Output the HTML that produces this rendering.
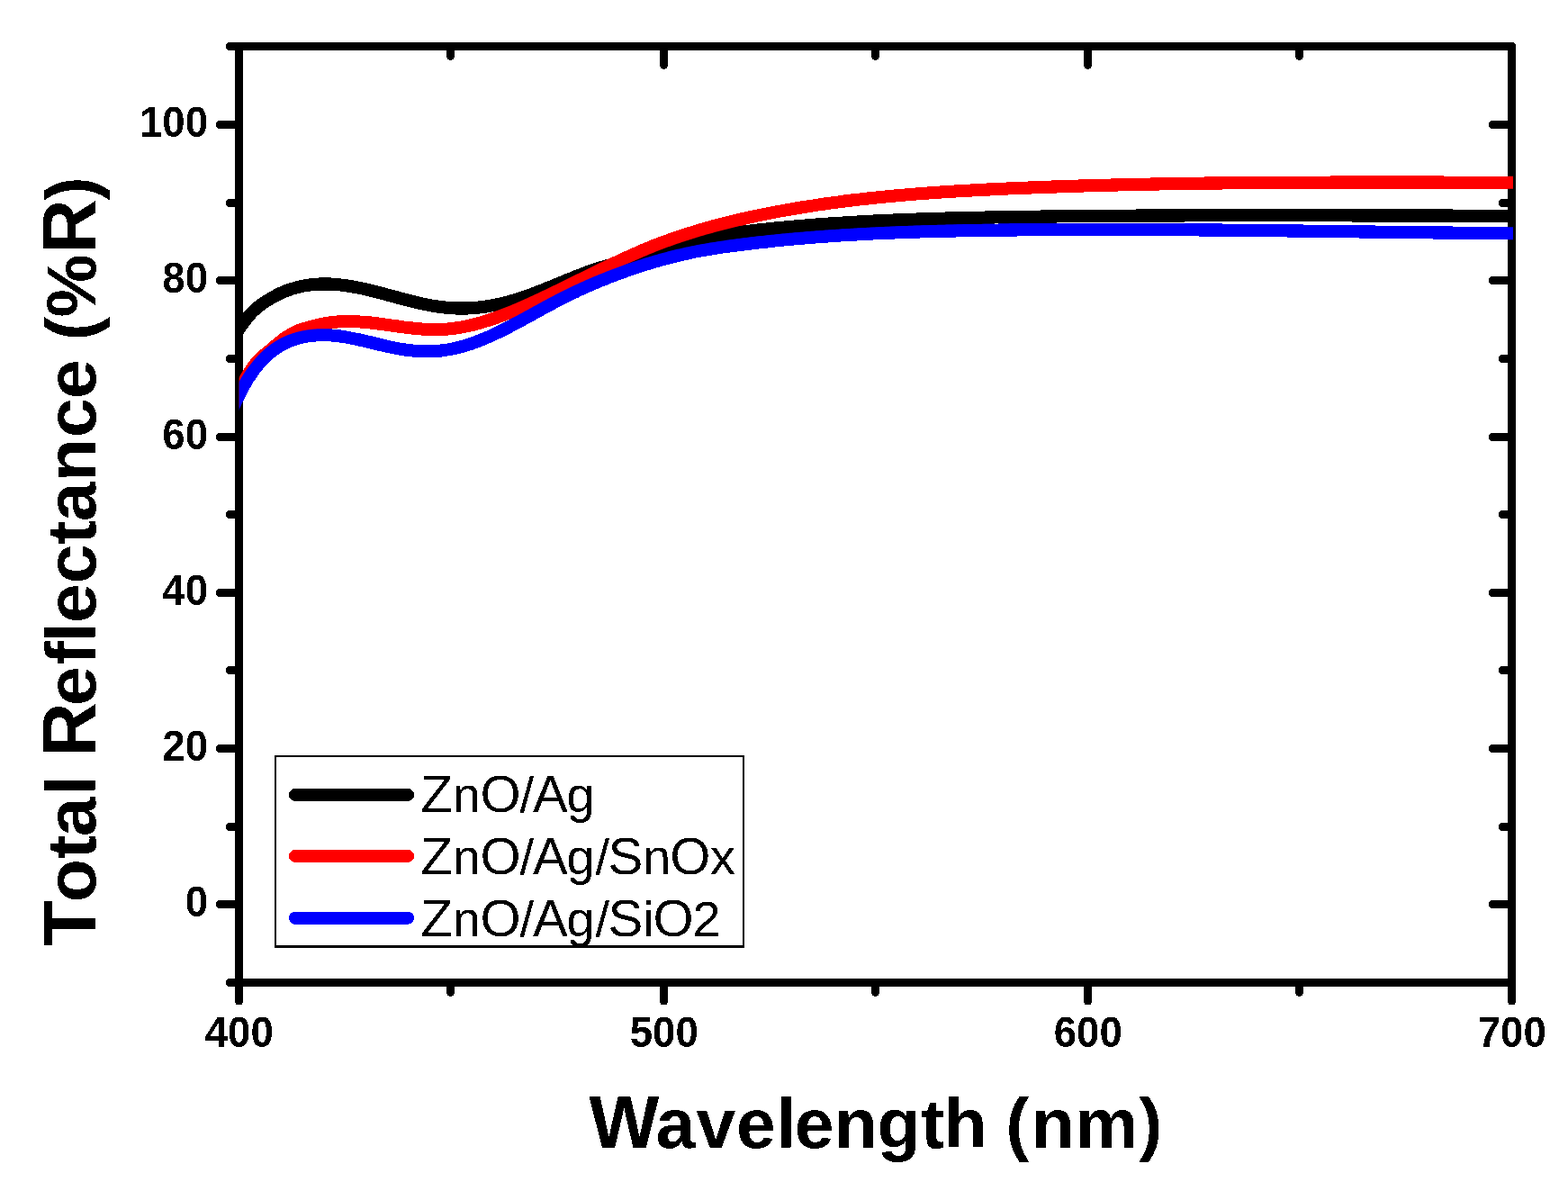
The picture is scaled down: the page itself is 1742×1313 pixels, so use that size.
<!DOCTYPE html><html><head><meta charset="utf-8"><title>Total Reflectance vs Wavelength</title><style>html,body{margin:0;padding:0;background:#fff;overflow:hidden;}svg{display:block;}text{font-family:"Liberation Sans",Arial,sans-serif;font-kerning:normal;text-rendering:optimizeLegibility;}</style></head><body>
<svg width="1742" height="1313" viewBox="0 0 1742 1313">
<defs><filter id="crisp" x="0" y="0" width="1742" height="1313" filterUnits="userSpaceOnUse"><feComponentTransfer><feFuncA type="discrete" tableValues="0 1"/></feComponentTransfer></filter><clipPath id="plot"><rect x="265.6" y="40" width="1415.4" height="1060"/></clipPath></defs>
<rect width="100%" height="100%" fill="#fff"/>
<g filter="url(#crisp)">
<g stroke="#000" stroke-width="9" stroke-linecap="round" fill="none"><line x1="255.5" y1="1091.5" x2="265.4" y2="1091.5"/><line x1="244.5" y1="1004.5" x2="265.4" y2="1004.5"/><line x1="255.5" y1="918.5" x2="265.4" y2="918.5"/><line x1="244.5" y1="831.5" x2="265.4" y2="831.5"/><line x1="255.5" y1="744.5" x2="265.4" y2="744.5"/><line x1="244.5" y1="658.5" x2="265.4" y2="658.5"/><line x1="255.5" y1="571.5" x2="265.4" y2="571.5"/><line x1="244.5" y1="485.5" x2="265.4" y2="485.5"/><line x1="255.5" y1="398.5" x2="265.4" y2="398.5"/><line x1="244.5" y1="311.5" x2="265.4" y2="311.5"/><line x1="255.5" y1="225.5" x2="265.4" y2="225.5"/><line x1="244.5" y1="138.5" x2="265.4" y2="138.5"/><line x1="255.5" y1="51.5" x2="265.4" y2="51.5"/><line x1="1658.5" y1="1004.5" x2="1679.5" y2="1004.5"/><line x1="1669.5" y1="918.5" x2="1679.5" y2="918.5"/><line x1="1658.5" y1="831.5" x2="1679.5" y2="831.5"/><line x1="1669.5" y1="744.5" x2="1679.5" y2="744.5"/><line x1="1658.5" y1="658.5" x2="1679.5" y2="658.5"/><line x1="1669.5" y1="571.5" x2="1679.5" y2="571.5"/><line x1="1658.5" y1="485.5" x2="1679.5" y2="485.5"/><line x1="1669.5" y1="398.5" x2="1679.5" y2="398.5"/><line x1="1658.5" y1="311.5" x2="1679.5" y2="311.5"/><line x1="1669.5" y1="225.5" x2="1679.5" y2="225.5"/><line x1="1658.5" y1="138.5" x2="1679.5" y2="138.5"/><line x1="265.5" y1="1091.5" x2="265.5" y2="1112.1"/><line x1="500.5" y1="1091.5" x2="500.5" y2="1102.3"/><line x1="500.5" y1="51.5" x2="500.5" y2="62.2"/><line x1="737.5" y1="1091.5" x2="737.5" y2="1112.1"/><line x1="737.5" y1="51.5" x2="737.5" y2="72.3"/><line x1="972.5" y1="1091.5" x2="972.5" y2="1102.3"/><line x1="972.5" y1="51.5" x2="972.5" y2="62.2"/><line x1="1208.5" y1="1091.5" x2="1208.5" y2="1112.1"/><line x1="1208.5" y1="51.5" x2="1208.5" y2="72.3"/><line x1="1443.5" y1="1091.5" x2="1443.5" y2="1102.3"/><line x1="1443.5" y1="51.5" x2="1443.5" y2="62.2"/><line x1="1679.5" y1="1091.5" x2="1679.5" y2="1112.1"/></g>
<g fill="#000"><rect x="261" y="47" width="9" height="1049"/><rect x="261" y="1087" width="1423" height="9"/><rect x="261" y="47" width="1421" height="1"/><rect x="261" y="48" width="1422" height="1"/><rect x="261" y="49" width="1423" height="7"/><rect x="1675" y="49" width="9" height="1047"/></g>
<g fill="none" stroke-width="14" stroke-linejoin="round" stroke-linecap="butt" clip-path="url(#plot)">
<path stroke="#000" d="M258.0,373.61 L260.0,371.87 L262.0,369.77 L264.0,367.40 L266.0,364.83 L268.0,362.13 L270.0,359.38 L272.0,356.64 L274.0,353.99 L276.0,351.46 L278.0,349.12 L280.0,346.98 L282.0,345.02 L284.0,343.22 L286.0,341.55 L288.0,339.99 L290.0,338.51 L292.0,337.10 L294.0,335.73 L296.0,334.42 L298.0,333.15 L300.0,331.94 L302.0,330.77 L304.0,329.65 L306.0,328.58 L308.0,327.56 L310.0,326.58 L312.0,325.64 L314.0,324.75 L316.0,323.91 L318.0,323.11 L320.0,322.35 L322.0,321.64 L324.0,320.97 L326.0,320.34 L328.0,319.75 L330.0,319.21 L332.0,318.70 L334.0,318.23 L336.0,317.80 L338.0,317.41 L340.0,317.06 L342.0,316.74 L344.0,316.46 L346.0,316.22 L348.0,316.01 L350.0,315.83 L352.0,315.68 L354.0,315.57 L356.0,315.49 L358.0,315.44 L360.0,315.41 L362.0,315.42 L364.0,315.46 L366.0,315.52 L368.0,315.61 L370.0,315.72 L372.0,315.86 L374.0,316.03 L376.0,316.22 L378.0,316.43 L380.0,316.66 L382.0,316.91 L384.0,317.19 L386.0,317.48 L388.0,317.80 L390.0,318.13 L392.0,318.48 L394.0,318.84 L396.0,319.22 L398.0,319.62 L400.0,320.03 L402.0,320.46 L404.0,320.89 L406.0,321.34 L408.0,321.81 L410.0,322.28 L412.0,322.76 L414.0,323.25 L416.0,323.75 L418.0,324.25 L420.0,324.77 L422.0,325.29 L424.0,325.81 L426.0,326.34 L428.0,326.87 L430.0,327.41 L432.0,327.95 L434.0,328.49 L436.0,329.03 L438.0,329.57 L440.0,330.11 L442.0,330.64 L444.0,331.18 L446.0,331.71 L448.0,332.24 L450.0,332.76 L452.0,333.28 L454.0,333.79 L456.0,334.30 L458.0,334.79 L460.0,335.28 L462.0,335.76 L464.0,336.23 L466.0,336.69 L468.0,337.14 L470.0,337.57 L472.0,337.99 L474.0,338.40 L476.0,338.80 L478.0,339.17 L480.0,339.54 L482.0,339.88 L484.0,340.21 L486.0,340.52 L488.0,340.81 L490.0,341.08 L492.0,341.33 L494.0,341.56 L496.0,341.77 L498.0,341.96 L500.0,342.12 L502.0,342.25 L504.0,342.37 L506.0,342.46 L508.0,342.52 L510.0,342.56 L512.0,342.58 L514.0,342.57 L516.0,342.55 L518.0,342.50 L520.0,342.42 L522.0,342.33 L524.0,342.21 L526.0,342.07 L528.0,341.90 L530.0,341.72 L532.0,341.51 L534.0,341.29 L536.0,341.04 L538.0,340.77 L540.0,340.48 L542.0,340.17 L544.0,339.84 L546.0,339.48 L548.0,339.11 L550.0,338.72 L552.0,338.31 L554.0,337.88 L556.0,337.43 L558.0,336.96 L560.0,336.47 L562.0,335.96 L564.0,335.44 L566.0,334.89 L568.0,334.33 L570.0,333.75 L572.0,333.15 L574.0,332.54 L576.0,331.90 L578.0,331.26 L580.0,330.60 L582.0,329.92 L584.0,329.23 L586.0,328.53 L588.0,327.81 L590.0,327.08 L592.0,326.35 L594.0,325.60 L596.0,324.84 L598.0,324.07 L600.0,323.30 L602.0,322.51 L604.0,321.72 L606.0,320.92 L608.0,320.12 L610.0,319.31 L612.0,318.50 L614.0,317.68 L616.0,316.86 L618.0,316.03 L620.0,315.21 L622.0,314.38 L624.0,313.56 L626.0,312.73 L628.0,311.90 L630.0,311.08 L632.0,310.25 L634.0,309.44 L636.0,308.62 L638.0,307.82 L640.0,307.01 L642.0,306.22 L644.0,305.44 L646.0,304.66 L648.0,303.89 L650.0,303.14 L652.0,302.40 L654.0,301.67 L656.0,300.95 L658.0,300.25 L660.0,299.56 L662.0,298.89 L664.0,298.24 L666.0,297.61 L668.0,296.99 L670.0,296.40 L672.0,295.83 L674.0,295.27 L676.0,294.73 L678.0,294.20 L680.0,293.68 L682.0,293.17 L684.0,292.67 L686.0,292.18 L688.0,291.69 L690.0,291.20 L692.0,290.72 L694.0,290.23 L696.0,289.73 L698.0,289.24 L700.0,288.73 L702.0,288.22 L704.0,287.70 L706.0,287.17 L708.0,286.63 L710.0,286.08 L712.0,285.53 L714.0,284.97 L716.0,284.41 L718.0,283.84 L720.0,283.26 L722.0,282.68 L724.0,282.10 L726.0,281.51 L728.0,280.92 L730.0,280.33 L732.0,279.74 L734.0,279.14 L736.0,278.54 L738.0,277.94 L740.0,277.35 L742.0,276.75 L744.0,276.15 L746.0,275.55 L748.0,274.96 L750.0,274.36 L752.0,273.77 L754.0,273.19 L756.0,272.60 L758.0,272.02 L760.0,271.44 L762.0,270.87 L764.0,270.30 L766.0,269.74 L768.0,269.19 L770.0,268.64 L772.0,268.10 L774.0,267.56 L776.0,267.03 L778.0,266.51 L780.0,266.00 L782.0,265.50 L784.0,265.01 L786.0,264.53 L788.0,264.06 L790.0,263.60 L792.0,263.15 L794.0,262.71 L796.0,262.28 L798.0,261.87 L800.0,261.47 L802.0,261.09 L804.0,260.71 L806.0,260.35 L808.0,260.00 L810.0,259.67 L812.0,259.34 L814.0,259.03 L816.0,258.72 L818.0,258.42 L820.0,258.14 L822.0,257.86 L824.0,257.59 L826.0,257.33 L828.0,257.07 L830.0,256.82 L832.0,256.58 L834.0,256.34 L836.0,256.11 L838.0,255.88 L840.0,255.66 L842.0,255.44 L844.0,255.23 L846.0,255.01 L848.0,254.80 L850.0,254.59 L852.0,254.38 L854.0,254.18 L856.0,253.98 L858.0,253.78 L860.0,253.58 L862.0,253.38 L864.0,253.19 L866.0,253.00 L868.0,252.81 L870.0,252.62 L872.0,252.43 L874.0,252.25 L876.0,252.07 L878.0,251.89 L880.0,251.71 L882.0,251.54 L884.0,251.36 L886.0,251.19 L888.0,251.02 L890.0,250.86 L892.0,250.69 L894.0,250.53 L896.0,250.36 L898.0,250.20 L900.0,250.05 L902.0,249.89 L904.0,249.74 L906.0,249.58 L908.0,249.43 L910.0,249.29 L912.0,249.14 L914.0,248.99 L916.0,248.85 L918.0,248.71 L920.0,248.57 L922.0,248.43 L924.0,248.29 L926.0,248.16 L928.0,248.03 L930.0,247.90 L932.0,247.77 L934.0,247.64 L936.0,247.51 L938.0,247.39 L940.0,247.26 L942.0,247.14 L944.0,247.02 L946.0,246.90 L948.0,246.79 L950.0,246.67 L952.0,246.56 L954.0,246.45 L956.0,246.34 L958.0,246.23 L960.0,246.12 L962.0,246.01 L964.0,245.91 L966.0,245.81 L968.0,245.70 L970.0,245.60 L972.0,245.51 L974.0,245.41 L976.0,245.31 L978.0,245.22 L980.0,245.12 L982.0,245.03 L984.0,244.94 L986.0,244.85 L988.0,244.76 L990.0,244.68 L992.0,244.59 L994.0,244.51 L996.0,244.42 L998.0,244.34 L1000.0,244.26 L1002.0,244.18 L1004.0,244.10 L1006.0,244.03 L1008.0,243.95 L1010.0,243.88 L1012.0,243.80 L1014.0,243.73 L1016.0,243.66 L1018.0,243.59 L1020.0,243.52 L1022.0,243.45 L1024.0,243.38 L1026.0,243.32 L1028.0,243.25 L1030.0,243.19 L1032.0,243.12 L1034.0,243.06 L1036.0,243.00 L1038.0,242.94 L1040.0,242.88 L1042.0,242.82 L1044.0,242.77 L1046.0,242.71 L1048.0,242.65 L1050.0,242.60 L1052.0,242.55 L1054.0,242.49 L1056.0,242.44 L1058.0,242.39 L1060.0,242.34 L1062.0,242.29 L1064.0,242.24 L1066.0,242.19 L1068.0,242.15 L1070.0,242.10 L1072.0,242.05 L1074.0,242.01 L1076.0,241.96 L1078.0,241.92 L1080.0,241.88 L1082.0,241.83 L1084.0,241.79 L1086.0,241.75 L1088.0,241.71 L1090.0,241.67 L1092.0,241.63 L1094.0,241.59 L1096.0,241.56 L1098.0,241.52 L1100.0,241.48 L1102.0,241.44 L1104.0,241.41 L1106.0,241.37 L1108.0,241.34 L1110.0,241.30 L1112.0,241.27 L1114.0,241.24 L1116.0,241.20 L1118.0,241.17 L1120.0,241.14 L1122.0,241.11 L1124.0,241.07 L1126.0,241.04 L1128.0,241.01 L1130.0,240.98 L1132.0,240.95 L1134.0,240.92 L1136.0,240.89 L1138.0,240.86 L1140.0,240.83 L1142.0,240.81 L1144.0,240.78 L1146.0,240.75 L1148.0,240.72 L1150.0,240.69 L1152.0,240.67 L1154.0,240.64 L1156.0,240.61 L1158.0,240.59 L1160.0,240.56 L1162.0,240.54 L1164.0,240.51 L1166.0,240.49 L1168.0,240.46 L1170.0,240.44 L1172.0,240.42 L1174.0,240.39 L1176.0,240.37 L1178.0,240.35 L1180.0,240.32 L1182.0,240.30 L1184.0,240.28 L1186.0,240.26 L1188.0,240.24 L1190.0,240.21 L1192.0,240.19 L1194.0,240.17 L1196.0,240.15 L1198.0,240.13 L1200.0,240.11 L1202.0,240.09 L1204.0,240.07 L1206.0,240.05 L1208.0,240.03 L1210.0,240.02 L1212.0,240.00 L1214.0,239.98 L1216.0,239.96 L1218.0,239.95 L1220.0,239.93 L1222.0,239.91 L1224.0,239.89 L1226.0,239.88 L1228.0,239.86 L1230.0,239.85 L1232.0,239.83 L1234.0,239.81 L1236.0,239.80 L1238.0,239.78 L1240.0,239.77 L1242.0,239.76 L1244.0,239.74 L1246.0,239.73 L1248.0,239.71 L1250.0,239.70 L1252.0,239.69 L1254.0,239.67 L1256.0,239.66 L1258.0,239.65 L1260.0,239.64 L1262.0,239.62 L1264.0,239.61 L1266.0,239.60 L1268.0,239.59 L1270.0,239.58 L1272.0,239.57 L1274.0,239.56 L1276.0,239.55 L1278.0,239.54 L1280.0,239.53 L1282.0,239.52 L1284.0,239.51 L1286.0,239.50 L1288.0,239.49 L1290.0,239.48 L1292.0,239.47 L1294.0,239.46 L1296.0,239.45 L1298.0,239.44 L1300.0,239.44 L1302.0,239.43 L1304.0,239.42 L1306.0,239.41 L1308.0,239.41 L1310.0,239.40 L1312.0,239.39 L1314.0,239.39 L1316.0,239.38 L1318.0,239.37 L1320.0,239.37 L1322.0,239.36 L1324.0,239.36 L1326.0,239.35 L1328.0,239.34 L1330.0,239.34 L1332.0,239.33 L1334.0,239.33 L1336.0,239.32 L1338.0,239.32 L1340.0,239.32 L1342.0,239.31 L1344.0,239.31 L1346.0,239.30 L1348.0,239.30 L1350.0,239.30 L1352.0,239.29 L1354.0,239.29 L1356.0,239.29 L1358.0,239.28 L1360.0,239.28 L1362.0,239.28 L1364.0,239.28 L1366.0,239.27 L1368.0,239.27 L1370.0,239.27 L1372.0,239.27 L1374.0,239.27 L1376.0,239.26 L1378.0,239.26 L1380.0,239.26 L1382.0,239.26 L1384.0,239.26 L1386.0,239.26 L1388.0,239.26 L1390.0,239.26 L1392.0,239.26 L1394.0,239.26 L1396.0,239.25 L1398.0,239.25 L1400.0,239.25 L1402.0,239.25 L1404.0,239.25 L1406.0,239.26 L1408.0,239.26 L1410.0,239.26 L1412.0,239.26 L1414.0,239.26 L1416.0,239.26 L1418.0,239.26 L1420.0,239.26 L1422.0,239.26 L1424.0,239.26 L1426.0,239.26 L1428.0,239.27 L1430.0,239.27 L1432.0,239.27 L1434.0,239.27 L1436.0,239.27 L1438.0,239.27 L1440.0,239.28 L1442.0,239.28 L1444.0,239.28 L1446.0,239.28 L1448.0,239.29 L1450.0,239.29 L1452.0,239.29 L1454.0,239.29 L1456.0,239.30 L1458.0,239.30 L1460.0,239.30 L1462.0,239.30 L1464.0,239.31 L1466.0,239.31 L1468.0,239.31 L1470.0,239.32 L1472.0,239.32 L1474.0,239.32 L1476.0,239.33 L1478.0,239.33 L1480.0,239.33 L1482.0,239.34 L1484.0,239.34 L1486.0,239.34 L1488.0,239.35 L1490.0,239.35 L1492.0,239.36 L1494.0,239.36 L1496.0,239.36 L1498.0,239.37 L1500.0,239.37 L1502.0,239.38 L1504.0,239.38 L1506.0,239.38 L1508.0,239.39 L1510.0,239.39 L1512.0,239.40 L1514.0,239.40 L1516.0,239.41 L1518.0,239.41 L1520.0,239.41 L1522.0,239.42 L1524.0,239.42 L1526.0,239.43 L1528.0,239.43 L1530.0,239.44 L1532.0,239.44 L1534.0,239.45 L1536.0,239.45 L1538.0,239.45 L1540.0,239.46 L1542.0,239.46 L1544.0,239.47 L1546.0,239.47 L1548.0,239.48 L1550.0,239.48 L1552.0,239.49 L1554.0,239.49 L1556.0,239.50 L1558.0,239.50 L1560.0,239.51 L1562.0,239.51 L1564.0,239.51 L1566.0,239.52 L1568.0,239.52 L1570.0,239.53 L1572.0,239.53 L1574.0,239.54 L1576.0,239.54 L1578.0,239.55 L1580.0,239.55 L1582.0,239.56 L1584.0,239.56 L1586.0,239.56 L1588.0,239.57 L1590.0,239.57 L1592.0,239.58 L1594.0,239.58 L1596.0,239.59 L1598.0,239.59 L1600.0,239.59 L1602.0,239.60 L1604.0,239.60 L1606.0,239.61 L1608.0,239.61 L1610.0,239.61 L1612.0,239.62 L1614.0,239.62 L1616.0,239.63 L1618.0,239.63 L1620.0,239.63 L1622.0,239.64 L1624.0,239.64 L1626.0,239.65 L1628.0,239.65 L1630.0,239.65 L1632.0,239.66 L1634.0,239.66 L1636.0,239.66 L1638.0,239.67 L1640.0,239.67 L1642.0,239.67 L1644.0,239.68 L1646.0,239.68 L1648.0,239.68 L1650.0,239.68 L1652.0,239.69 L1654.0,239.69 L1656.0,239.69 L1658.0,239.70 L1660.0,239.70 L1662.0,239.70 L1664.0,239.70 L1666.0,239.70 L1668.0,239.71 L1670.0,239.71 L1672.0,239.71 L1674.0,239.71 L1676.0,239.71 L1678.0,239.72 L1680.0,239.72 L1682.0,239.72 L1684.0,239.72 L1686.0,239.72 L1688.0,239.72 L1690.0,239.72"/>
<path stroke="#f00" d="M258.0,451.95 L260.0,447.18 L262.0,442.57 L264.0,438.12 L266.0,433.84 L268.0,429.74 L270.0,425.81 L272.0,422.07 L274.0,418.51 L276.0,415.16 L278.0,412.00 L280.0,409.04 L282.0,406.28 L284.0,403.72 L286.0,401.37 L288.0,399.22 L290.0,397.27 L292.0,395.49 L294.0,393.82 L296.0,392.20 L298.0,390.61 L300.0,389.00 L302.0,387.34 L304.0,385.65 L306.0,383.95 L308.0,382.25 L310.0,380.58 L312.0,378.95 L314.0,377.37 L316.0,375.86 L318.0,374.42 L320.0,373.08 L322.0,371.84 L324.0,370.70 L326.0,369.66 L328.0,368.71 L330.0,367.85 L332.0,367.05 L334.0,366.32 L336.0,365.64 L338.0,365.01 L340.0,364.41 L342.0,363.85 L344.0,363.30 L346.0,362.77 L348.0,362.25 L350.0,361.73 L352.0,361.23 L354.0,360.74 L356.0,360.28 L358.0,359.84 L360.0,359.43 L362.0,359.06 L364.0,358.72 L366.0,358.42 L368.0,358.14 L370.0,357.90 L372.0,357.69 L374.0,357.51 L376.0,357.36 L378.0,357.24 L380.0,357.15 L382.0,357.08 L384.0,357.04 L386.0,357.02 L388.0,357.02 L390.0,357.05 L392.0,357.10 L394.0,357.17 L396.0,357.26 L398.0,357.37 L400.0,357.49 L402.0,357.64 L404.0,357.79 L406.0,357.97 L408.0,358.15 L410.0,358.35 L412.0,358.57 L414.0,358.79 L416.0,359.02 L418.0,359.27 L420.0,359.52 L422.0,359.77 L424.0,360.04 L426.0,360.31 L428.0,360.58 L430.0,360.86 L432.0,361.14 L434.0,361.42 L436.0,361.70 L438.0,361.98 L440.0,362.26 L442.0,362.54 L444.0,362.81 L446.0,363.08 L448.0,363.34 L450.0,363.60 L452.0,363.85 L454.0,364.10 L456.0,364.33 L458.0,364.56 L460.0,364.77 L462.0,364.97 L464.0,365.16 L466.0,365.33 L468.0,365.49 L470.0,365.64 L472.0,365.76 L474.0,365.87 L476.0,365.96 L478.0,366.04 L480.0,366.09 L482.0,366.12 L484.0,366.12 L486.0,366.11 L488.0,366.07 L490.0,366.00 L492.0,365.91 L494.0,365.79 L496.0,365.64 L498.0,365.47 L500.0,365.28 L502.0,365.05 L504.0,364.81 L506.0,364.54 L508.0,364.24 L510.0,363.92 L512.0,363.58 L514.0,363.22 L516.0,362.83 L518.0,362.43 L520.0,362.00 L522.0,361.55 L524.0,361.08 L526.0,360.59 L528.0,360.08 L530.0,359.55 L532.0,359.00 L534.0,358.44 L536.0,357.85 L538.0,357.25 L540.0,356.63 L542.0,356.00 L544.0,355.35 L546.0,354.68 L548.0,354.00 L550.0,353.30 L552.0,352.59 L554.0,351.87 L556.0,351.13 L558.0,350.37 L560.0,349.61 L562.0,348.83 L564.0,348.04 L566.0,347.24 L568.0,346.43 L570.0,345.60 L572.0,344.77 L574.0,343.93 L576.0,343.07 L578.0,342.21 L580.0,341.34 L582.0,340.46 L584.0,339.58 L586.0,338.68 L588.0,337.78 L590.0,336.88 L592.0,335.96 L594.0,335.04 L596.0,334.12 L598.0,333.19 L600.0,332.26 L602.0,331.32 L604.0,330.37 L606.0,329.43 L608.0,328.47 L610.0,327.52 L612.0,326.56 L614.0,325.59 L616.0,324.63 L618.0,323.66 L620.0,322.69 L622.0,321.71 L624.0,320.73 L626.0,319.76 L628.0,318.78 L630.0,317.79 L632.0,316.81 L634.0,315.82 L636.0,314.84 L638.0,313.85 L640.0,312.86 L642.0,311.88 L644.0,310.89 L646.0,309.90 L648.0,308.91 L650.0,307.93 L652.0,306.94 L654.0,305.96 L656.0,304.97 L658.0,303.99 L660.0,303.01 L662.0,302.03 L664.0,301.06 L666.0,300.08 L668.0,299.11 L670.0,298.15 L672.0,297.18 L674.0,296.22 L676.0,295.26 L678.0,294.31 L680.0,293.36 L682.0,292.41 L684.0,291.47 L686.0,290.53 L688.0,289.60 L690.0,288.67 L692.0,287.75 L694.0,286.84 L696.0,285.93 L698.0,285.02 L700.0,284.12 L702.0,283.23 L704.0,282.35 L706.0,281.47 L708.0,280.60 L710.0,279.74 L712.0,278.88 L714.0,278.03 L716.0,277.19 L718.0,276.36 L720.0,275.54 L722.0,274.72 L724.0,273.92 L726.0,273.12 L728.0,272.33 L730.0,271.56 L732.0,270.79 L734.0,270.02 L736.0,269.27 L738.0,268.53 L740.0,267.79 L742.0,267.06 L744.0,266.34 L746.0,265.63 L748.0,264.93 L750.0,264.23 L752.0,263.55 L754.0,262.87 L756.0,262.20 L758.0,261.53 L760.0,260.88 L762.0,260.23 L764.0,259.58 L766.0,258.95 L768.0,258.32 L770.0,257.70 L772.0,257.09 L774.0,256.48 L776.0,255.89 L778.0,255.29 L780.0,254.71 L782.0,254.13 L784.0,253.56 L786.0,252.99 L788.0,252.43 L790.0,251.88 L792.0,251.33 L794.0,250.79 L796.0,250.26 L798.0,249.73 L800.0,249.20 L802.0,248.69 L804.0,248.18 L806.0,247.67 L808.0,247.17 L810.0,246.68 L812.0,246.19 L814.0,245.70 L816.0,245.22 L818.0,244.75 L820.0,244.28 L822.0,243.82 L824.0,243.36 L826.0,242.90 L828.0,242.46 L830.0,242.01 L832.0,241.57 L834.0,241.13 L836.0,240.70 L838.0,240.28 L840.0,239.85 L842.0,239.44 L844.0,239.02 L846.0,238.61 L848.0,238.20 L850.0,237.80 L852.0,237.40 L854.0,237.01 L856.0,236.62 L858.0,236.23 L860.0,235.84 L862.0,235.46 L864.0,235.09 L866.0,234.71 L868.0,234.35 L870.0,233.98 L872.0,233.62 L874.0,233.26 L876.0,232.91 L878.0,232.55 L880.0,232.21 L882.0,231.86 L884.0,231.52 L886.0,231.19 L888.0,230.85 L890.0,230.52 L892.0,230.19 L894.0,229.87 L896.0,229.55 L898.0,229.23 L900.0,228.92 L902.0,228.61 L904.0,228.30 L906.0,228.00 L908.0,227.70 L910.0,227.40 L912.0,227.11 L914.0,226.82 L916.0,226.53 L918.0,226.24 L920.0,225.96 L922.0,225.68 L924.0,225.41 L926.0,225.13 L928.0,224.87 L930.0,224.60 L932.0,224.33 L934.0,224.07 L936.0,223.82 L938.0,223.56 L940.0,223.31 L942.0,223.06 L944.0,222.81 L946.0,222.57 L948.0,222.33 L950.0,222.09 L952.0,221.85 L954.0,221.62 L956.0,221.39 L958.0,221.16 L960.0,220.94 L962.0,220.72 L964.0,220.50 L966.0,220.28 L968.0,220.06 L970.0,219.85 L972.0,219.64 L974.0,219.44 L976.0,219.23 L978.0,219.03 L980.0,218.83 L982.0,218.63 L984.0,218.44 L986.0,218.24 L988.0,218.05 L990.0,217.86 L992.0,217.68 L994.0,217.50 L996.0,217.31 L998.0,217.13 L1000.0,216.96 L1002.0,216.78 L1004.0,216.61 L1006.0,216.44 L1008.0,216.27 L1010.0,216.10 L1012.0,215.94 L1014.0,215.78 L1016.0,215.62 L1018.0,215.46 L1020.0,215.30 L1022.0,215.15 L1024.0,214.99 L1026.0,214.84 L1028.0,214.69 L1030.0,214.55 L1032.0,214.40 L1034.0,214.26 L1036.0,214.12 L1038.0,213.98 L1040.0,213.84 L1042.0,213.70 L1044.0,213.57 L1046.0,213.43 L1048.0,213.30 L1050.0,213.17 L1052.0,213.04 L1054.0,212.92 L1056.0,212.79 L1058.0,212.67 L1060.0,212.55 L1062.0,212.43 L1064.0,212.31 L1066.0,212.19 L1068.0,212.07 L1070.0,211.96 L1072.0,211.84 L1074.0,211.73 L1076.0,211.62 L1078.0,211.51 L1080.0,211.40 L1082.0,211.30 L1084.0,211.19 L1086.0,211.09 L1088.0,210.98 L1090.0,210.88 L1092.0,210.78 L1094.0,210.68 L1096.0,210.58 L1098.0,210.48 L1100.0,210.39 L1102.0,210.29 L1104.0,210.19 L1106.0,210.10 L1108.0,210.01 L1110.0,209.92 L1112.0,209.83 L1114.0,209.74 L1116.0,209.65 L1118.0,209.56 L1120.0,209.47 L1122.0,209.38 L1124.0,209.30 L1126.0,209.21 L1128.0,209.13 L1130.0,209.04 L1132.0,208.96 L1134.0,208.88 L1136.0,208.80 L1138.0,208.72 L1140.0,208.64 L1142.0,208.56 L1144.0,208.48 L1146.0,208.40 L1148.0,208.32 L1150.0,208.25 L1152.0,208.17 L1154.0,208.09 L1156.0,208.02 L1158.0,207.95 L1160.0,207.87 L1162.0,207.80 L1164.0,207.73 L1166.0,207.66 L1168.0,207.58 L1170.0,207.51 L1172.0,207.44 L1174.0,207.38 L1176.0,207.31 L1178.0,207.24 L1180.0,207.17 L1182.0,207.11 L1184.0,207.04 L1186.0,206.97 L1188.0,206.91 L1190.0,206.85 L1192.0,206.78 L1194.0,206.72 L1196.0,206.66 L1198.0,206.60 L1200.0,206.53 L1202.0,206.47 L1204.0,206.41 L1206.0,206.36 L1208.0,206.30 L1210.0,206.24 L1212.0,206.18 L1214.0,206.12 L1216.0,206.07 L1218.0,206.01 L1220.0,205.96 L1222.0,205.90 L1224.0,205.85 L1226.0,205.80 L1228.0,205.74 L1230.0,205.69 L1232.0,205.64 L1234.0,205.59 L1236.0,205.54 L1238.0,205.49 L1240.0,205.44 L1242.0,205.39 L1244.0,205.34 L1246.0,205.29 L1248.0,205.24 L1250.0,205.20 L1252.0,205.15 L1254.0,205.11 L1256.0,205.06 L1258.0,205.02 L1260.0,204.97 L1262.0,204.93 L1264.0,204.88 L1266.0,204.84 L1268.0,204.80 L1270.0,204.76 L1272.0,204.72 L1274.0,204.68 L1276.0,204.63 L1278.0,204.60 L1280.0,204.56 L1282.0,204.52 L1284.0,204.48 L1286.0,204.44 L1288.0,204.40 L1290.0,204.37 L1292.0,204.33 L1294.0,204.29 L1296.0,204.26 L1298.0,204.22 L1300.0,204.19 L1302.0,204.16 L1304.0,204.12 L1306.0,204.09 L1308.0,204.06 L1310.0,204.02 L1312.0,203.99 L1314.0,203.96 L1316.0,203.93 L1318.0,203.90 L1320.0,203.87 L1322.0,203.84 L1324.0,203.81 L1326.0,203.78 L1328.0,203.75 L1330.0,203.72 L1332.0,203.70 L1334.0,203.67 L1336.0,203.64 L1338.0,203.62 L1340.0,203.59 L1342.0,203.57 L1344.0,203.54 L1346.0,203.52 L1348.0,203.49 L1350.0,203.47 L1352.0,203.44 L1354.0,203.42 L1356.0,203.40 L1358.0,203.38 L1360.0,203.35 L1362.0,203.33 L1364.0,203.31 L1366.0,203.29 L1368.0,203.27 L1370.0,203.25 L1372.0,203.23 L1374.0,203.21 L1376.0,203.19 L1378.0,203.17 L1380.0,203.15 L1382.0,203.14 L1384.0,203.12 L1386.0,203.10 L1388.0,203.08 L1390.0,203.07 L1392.0,203.05 L1394.0,203.03 L1396.0,203.02 L1398.0,203.00 L1400.0,202.99 L1402.0,202.97 L1404.0,202.96 L1406.0,202.94 L1408.0,202.93 L1410.0,202.92 L1412.0,202.90 L1414.0,202.89 L1416.0,202.88 L1418.0,202.87 L1420.0,202.85 L1422.0,202.84 L1424.0,202.83 L1426.0,202.82 L1428.0,202.81 L1430.0,202.80 L1432.0,202.79 L1434.0,202.78 L1436.0,202.77 L1438.0,202.76 L1440.0,202.75 L1442.0,202.74 L1444.0,202.73 L1446.0,202.72 L1448.0,202.72 L1450.0,202.71 L1452.0,202.70 L1454.0,202.69 L1456.0,202.68 L1458.0,202.68 L1460.0,202.67 L1462.0,202.66 L1464.0,202.66 L1466.0,202.65 L1468.0,202.65 L1470.0,202.64 L1472.0,202.64 L1474.0,202.63 L1476.0,202.63 L1478.0,202.62 L1480.0,202.62 L1482.0,202.61 L1484.0,202.61 L1486.0,202.60 L1488.0,202.60 L1490.0,202.60 L1492.0,202.59 L1494.0,202.59 L1496.0,202.59 L1498.0,202.58 L1500.0,202.58 L1502.0,202.58 L1504.0,202.58 L1506.0,202.57 L1508.0,202.57 L1510.0,202.57 L1512.0,202.57 L1514.0,202.57 L1516.0,202.57 L1518.0,202.57 L1520.0,202.56 L1522.0,202.56 L1524.0,202.56 L1526.0,202.56 L1528.0,202.56 L1530.0,202.56 L1532.0,202.56 L1534.0,202.56 L1536.0,202.56 L1538.0,202.56 L1540.0,202.56 L1542.0,202.56 L1544.0,202.56 L1546.0,202.56 L1548.0,202.56 L1550.0,202.57 L1552.0,202.57 L1554.0,202.57 L1556.0,202.57 L1558.0,202.57 L1560.0,202.57 L1562.0,202.57 L1564.0,202.58 L1566.0,202.58 L1568.0,202.58 L1570.0,202.58 L1572.0,202.58 L1574.0,202.59 L1576.0,202.59 L1578.0,202.59 L1580.0,202.59 L1582.0,202.59 L1584.0,202.60 L1586.0,202.60 L1588.0,202.60 L1590.0,202.60 L1592.0,202.61 L1594.0,202.61 L1596.0,202.61 L1598.0,202.62 L1600.0,202.62 L1602.0,202.62 L1604.0,202.62 L1606.0,202.63 L1608.0,202.63 L1610.0,202.63 L1612.0,202.64 L1614.0,202.64 L1616.0,202.64 L1618.0,202.64 L1620.0,202.65 L1622.0,202.65 L1624.0,202.65 L1626.0,202.66 L1628.0,202.66 L1630.0,202.66 L1632.0,202.67 L1634.0,202.67 L1636.0,202.67 L1638.0,202.68 L1640.0,202.68 L1642.0,202.68 L1644.0,202.68 L1646.0,202.69 L1648.0,202.69 L1650.0,202.69 L1652.0,202.70 L1654.0,202.70 L1656.0,202.70 L1658.0,202.71 L1660.0,202.71 L1662.0,202.71 L1664.0,202.71 L1666.0,202.72 L1668.0,202.72 L1670.0,202.72 L1672.0,202.72 L1674.0,202.73 L1676.0,202.73 L1678.0,202.73 L1680.0,202.73 L1682.0,202.73 L1684.0,202.74 L1686.0,202.74 L1688.0,202.74 L1690.0,202.74"/>
<path stroke="#00f" d="M258.0,455.43 L260.0,450.72 L262.0,446.23 L264.0,441.94 L266.0,437.85 L268.0,433.95 L270.0,430.23 L272.0,426.69 L274.0,423.32 L276.0,420.11 L278.0,417.06 L280.0,414.16 L282.0,411.41 L284.0,408.79 L286.0,406.30 L288.0,403.93 L290.0,401.68 L292.0,399.55 L294.0,397.52 L296.0,395.60 L298.0,393.78 L300.0,392.06 L302.0,390.44 L304.0,388.91 L306.0,387.47 L308.0,386.12 L310.0,384.85 L312.0,383.67 L314.0,382.56 L316.0,381.52 L318.0,380.56 L320.0,379.66 L322.0,378.83 L324.0,378.06 L326.0,377.35 L328.0,376.69 L330.0,376.08 L332.0,375.53 L334.0,375.02 L336.0,374.55 L338.0,374.13 L340.0,373.76 L342.0,373.42 L344.0,373.13 L346.0,372.88 L348.0,372.67 L350.0,372.50 L352.0,372.36 L354.0,372.27 L356.0,372.20 L358.0,372.17 L360.0,372.18 L362.0,372.21 L364.0,372.28 L366.0,372.38 L368.0,372.51 L370.0,372.66 L372.0,372.84 L374.0,373.05 L376.0,373.28 L378.0,373.54 L380.0,373.81 L382.0,374.11 L384.0,374.43 L386.0,374.77 L388.0,375.13 L390.0,375.51 L392.0,375.90 L394.0,376.31 L396.0,376.73 L398.0,377.16 L400.0,377.60 L402.0,378.06 L404.0,378.52 L406.0,378.99 L408.0,379.47 L410.0,379.95 L412.0,380.43 L414.0,380.92 L416.0,381.40 L418.0,381.89 L420.0,382.37 L422.0,382.85 L424.0,383.33 L426.0,383.80 L428.0,384.26 L430.0,384.72 L432.0,385.16 L434.0,385.59 L436.0,386.01 L438.0,386.42 L440.0,386.81 L442.0,387.19 L444.0,387.54 L446.0,387.88 L448.0,388.20 L450.0,388.49 L452.0,388.77 L454.0,389.02 L456.0,389.25 L458.0,389.46 L460.0,389.65 L462.0,389.81 L464.0,389.95 L466.0,390.07 L468.0,390.16 L470.0,390.23 L472.0,390.27 L474.0,390.29 L476.0,390.28 L478.0,390.24 L480.0,390.18 L482.0,390.09 L484.0,389.98 L486.0,389.83 L488.0,389.66 L490.0,389.46 L492.0,389.23 L494.0,388.97 L496.0,388.68 L498.0,388.36 L500.0,388.01 L502.0,387.62 L504.0,387.21 L506.0,386.77 L508.0,386.30 L510.0,385.80 L512.0,385.27 L514.0,384.72 L516.0,384.14 L518.0,383.53 L520.0,382.90 L522.0,382.24 L524.0,381.56 L526.0,380.86 L528.0,380.14 L530.0,379.39 L532.0,378.62 L534.0,377.83 L536.0,377.02 L538.0,376.19 L540.0,375.34 L542.0,374.48 L544.0,373.60 L546.0,372.70 L548.0,371.78 L550.0,370.85 L552.0,369.91 L554.0,368.95 L556.0,367.97 L558.0,366.99 L560.0,365.99 L562.0,364.98 L564.0,363.96 L566.0,362.93 L568.0,361.89 L570.0,360.84 L572.0,359.79 L574.0,358.72 L576.0,357.65 L578.0,356.58 L580.0,355.49 L582.0,354.41 L584.0,353.32 L586.0,352.22 L588.0,351.12 L590.0,350.02 L592.0,348.92 L594.0,347.82 L596.0,346.72 L598.0,345.62 L600.0,344.53 L602.0,343.43 L604.0,342.34 L606.0,341.25 L608.0,340.16 L610.0,339.08 L612.0,338.01 L614.0,336.94 L616.0,335.88 L618.0,334.83 L620.0,333.78 L622.0,332.75 L624.0,331.72 L626.0,330.70 L628.0,329.70 L630.0,328.70 L632.0,327.72 L634.0,326.74 L636.0,325.77 L638.0,324.82 L640.0,323.87 L642.0,322.93 L644.0,322.00 L646.0,321.08 L648.0,320.17 L650.0,319.27 L652.0,318.38 L654.0,317.50 L656.0,316.62 L658.0,315.76 L660.0,314.90 L662.0,314.05 L664.0,313.21 L666.0,312.38 L668.0,311.56 L670.0,310.75 L672.0,309.94 L674.0,309.14 L676.0,308.35 L678.0,307.57 L680.0,306.80 L682.0,306.03 L684.0,305.27 L686.0,304.52 L688.0,303.78 L690.0,303.05 L692.0,302.32 L694.0,301.60 L696.0,300.89 L698.0,300.18 L700.0,299.49 L702.0,298.80 L704.0,298.11 L706.0,297.44 L708.0,296.77 L710.0,296.11 L712.0,295.46 L714.0,294.82 L716.0,294.18 L718.0,293.56 L720.0,292.94 L722.0,292.33 L724.0,291.72 L726.0,291.13 L728.0,290.54 L730.0,289.96 L732.0,289.39 L734.0,288.83 L736.0,288.27 L738.0,287.73 L740.0,287.19 L742.0,286.66 L744.0,286.14 L746.0,285.63 L748.0,285.12 L750.0,284.63 L752.0,284.14 L754.0,283.66 L756.0,283.19 L758.0,282.73 L760.0,282.28 L762.0,281.84 L764.0,281.40 L766.0,280.98 L768.0,280.56 L770.0,280.15 L772.0,279.75 L774.0,279.36 L776.0,278.98 L778.0,278.60 L780.0,278.24 L782.0,277.88 L784.0,277.53 L786.0,277.18 L788.0,276.85 L790.0,276.52 L792.0,276.19 L794.0,275.87 L796.0,275.56 L798.0,275.25 L800.0,274.95 L802.0,274.66 L804.0,274.37 L806.0,274.08 L808.0,273.80 L810.0,273.53 L812.0,273.25 L814.0,272.98 L816.0,272.72 L818.0,272.46 L820.0,272.20 L822.0,271.94 L824.0,271.69 L826.0,271.44 L828.0,271.20 L830.0,270.95 L832.0,270.71 L834.0,270.47 L836.0,270.23 L838.0,270.00 L840.0,269.77 L842.0,269.54 L844.0,269.31 L846.0,269.09 L848.0,268.87 L850.0,268.65 L852.0,268.43 L854.0,268.22 L856.0,268.01 L858.0,267.80 L860.0,267.59 L862.0,267.39 L864.0,267.18 L866.0,266.98 L868.0,266.79 L870.0,266.59 L872.0,266.40 L874.0,266.21 L876.0,266.02 L878.0,265.83 L880.0,265.65 L882.0,265.47 L884.0,265.29 L886.0,265.11 L888.0,264.94 L890.0,264.77 L892.0,264.60 L894.0,264.43 L896.0,264.26 L898.0,264.10 L900.0,263.94 L902.0,263.78 L904.0,263.62 L906.0,263.46 L908.0,263.31 L910.0,263.16 L912.0,263.01 L914.0,262.86 L916.0,262.71 L918.0,262.57 L920.0,262.43 L922.0,262.29 L924.0,262.15 L926.0,262.02 L928.0,261.88 L930.0,261.75 L932.0,261.62 L934.0,261.49 L936.0,261.36 L938.0,261.24 L940.0,261.12 L942.0,260.99 L944.0,260.87 L946.0,260.76 L948.0,260.64 L950.0,260.53 L952.0,260.41 L954.0,260.30 L956.0,260.19 L958.0,260.09 L960.0,259.98 L962.0,259.88 L964.0,259.77 L966.0,259.67 L968.0,259.57 L970.0,259.47 L972.0,259.38 L974.0,259.28 L976.0,259.19 L978.0,259.10 L980.0,259.01 L982.0,258.92 L984.0,258.83 L986.0,258.74 L988.0,258.66 L990.0,258.58 L992.0,258.50 L994.0,258.42 L996.0,258.34 L998.0,258.26 L1000.0,258.18 L1002.0,258.11 L1004.0,258.03 L1006.0,257.96 L1008.0,257.89 L1010.0,257.82 L1012.0,257.75 L1014.0,257.69 L1016.0,257.62 L1018.0,257.55 L1020.0,257.49 L1022.0,257.43 L1024.0,257.37 L1026.0,257.31 L1028.0,257.25 L1030.0,257.19 L1032.0,257.13 L1034.0,257.08 L1036.0,257.02 L1038.0,256.97 L1040.0,256.92 L1042.0,256.86 L1044.0,256.81 L1046.0,256.76 L1048.0,256.72 L1050.0,256.67 L1052.0,256.62 L1054.0,256.58 L1056.0,256.53 L1058.0,256.49 L1060.0,256.44 L1062.0,256.40 L1064.0,256.36 L1066.0,256.32 L1068.0,256.28 L1070.0,256.24 L1072.0,256.20 L1074.0,256.17 L1076.0,256.13 L1078.0,256.09 L1080.0,256.06 L1082.0,256.02 L1084.0,255.99 L1086.0,255.96 L1088.0,255.93 L1090.0,255.89 L1092.0,255.86 L1094.0,255.83 L1096.0,255.80 L1098.0,255.77 L1100.0,255.75 L1102.0,255.72 L1104.0,255.69 L1106.0,255.66 L1108.0,255.64 L1110.0,255.61 L1112.0,255.59 L1114.0,255.56 L1116.0,255.54 L1118.0,255.51 L1120.0,255.49 L1122.0,255.47 L1124.0,255.45 L1126.0,255.42 L1128.0,255.40 L1130.0,255.38 L1132.0,255.36 L1134.0,255.34 L1136.0,255.32 L1138.0,255.30 L1140.0,255.29 L1142.0,255.27 L1144.0,255.25 L1146.0,255.23 L1148.0,255.22 L1150.0,255.20 L1152.0,255.19 L1154.0,255.17 L1156.0,255.16 L1158.0,255.14 L1160.0,255.13 L1162.0,255.12 L1164.0,255.10 L1166.0,255.09 L1168.0,255.08 L1170.0,255.07 L1172.0,255.06 L1174.0,255.05 L1176.0,255.04 L1178.0,255.03 L1180.0,255.02 L1182.0,255.01 L1184.0,255.00 L1186.0,254.99 L1188.0,254.99 L1190.0,254.98 L1192.0,254.97 L1194.0,254.97 L1196.0,254.96 L1198.0,254.96 L1200.0,254.95 L1202.0,254.95 L1204.0,254.94 L1206.0,254.94 L1208.0,254.94 L1210.0,254.93 L1212.0,254.93 L1214.0,254.93 L1216.0,254.93 L1218.0,254.93 L1220.0,254.92 L1222.0,254.92 L1224.0,254.92 L1226.0,254.92 L1228.0,254.92 L1230.0,254.93 L1232.0,254.93 L1234.0,254.93 L1236.0,254.93 L1238.0,254.93 L1240.0,254.93 L1242.0,254.94 L1244.0,254.94 L1246.0,254.94 L1248.0,254.95 L1250.0,254.95 L1252.0,254.96 L1254.0,254.96 L1256.0,254.97 L1258.0,254.97 L1260.0,254.98 L1262.0,254.99 L1264.0,254.99 L1266.0,255.00 L1268.0,255.01 L1270.0,255.01 L1272.0,255.02 L1274.0,255.03 L1276.0,255.04 L1278.0,255.05 L1280.0,255.06 L1282.0,255.07 L1284.0,255.08 L1286.0,255.09 L1288.0,255.10 L1290.0,255.11 L1292.0,255.12 L1294.0,255.13 L1296.0,255.14 L1298.0,255.15 L1300.0,255.16 L1302.0,255.18 L1304.0,255.19 L1306.0,255.20 L1308.0,255.21 L1310.0,255.23 L1312.0,255.24 L1314.0,255.25 L1316.0,255.27 L1318.0,255.28 L1320.0,255.30 L1322.0,255.31 L1324.0,255.33 L1326.0,255.34 L1328.0,255.36 L1330.0,255.37 L1332.0,255.39 L1334.0,255.41 L1336.0,255.42 L1338.0,255.44 L1340.0,255.46 L1342.0,255.47 L1344.0,255.49 L1346.0,255.51 L1348.0,255.52 L1350.0,255.54 L1352.0,255.56 L1354.0,255.58 L1356.0,255.60 L1358.0,255.62 L1360.0,255.63 L1362.0,255.65 L1364.0,255.67 L1366.0,255.69 L1368.0,255.71 L1370.0,255.73 L1372.0,255.75 L1374.0,255.77 L1376.0,255.79 L1378.0,255.81 L1380.0,255.83 L1382.0,255.85 L1384.0,255.87 L1386.0,255.89 L1388.0,255.92 L1390.0,255.94 L1392.0,255.96 L1394.0,255.98 L1396.0,256.00 L1398.0,256.02 L1400.0,256.04 L1402.0,256.07 L1404.0,256.09 L1406.0,256.11 L1408.0,256.13 L1410.0,256.16 L1412.0,256.18 L1414.0,256.20 L1416.0,256.23 L1418.0,256.25 L1420.0,256.27 L1422.0,256.29 L1424.0,256.32 L1426.0,256.34 L1428.0,256.37 L1430.0,256.39 L1432.0,256.41 L1434.0,256.44 L1436.0,256.46 L1438.0,256.48 L1440.0,256.51 L1442.0,256.53 L1444.0,256.56 L1446.0,256.58 L1448.0,256.61 L1450.0,256.63 L1452.0,256.66 L1454.0,256.68 L1456.0,256.70 L1458.0,256.73 L1460.0,256.75 L1462.0,256.78 L1464.0,256.80 L1466.0,256.83 L1468.0,256.85 L1470.0,256.88 L1472.0,256.90 L1474.0,256.93 L1476.0,256.95 L1478.0,256.98 L1480.0,257.00 L1482.0,257.03 L1484.0,257.05 L1486.0,257.08 L1488.0,257.11 L1490.0,257.13 L1492.0,257.16 L1494.0,257.18 L1496.0,257.21 L1498.0,257.23 L1500.0,257.26 L1502.0,257.28 L1504.0,257.31 L1506.0,257.33 L1508.0,257.36 L1510.0,257.38 L1512.0,257.41 L1514.0,257.43 L1516.0,257.46 L1518.0,257.48 L1520.0,257.51 L1522.0,257.54 L1524.0,257.56 L1526.0,257.59 L1528.0,257.61 L1530.0,257.64 L1532.0,257.66 L1534.0,257.69 L1536.0,257.71 L1538.0,257.73 L1540.0,257.76 L1542.0,257.78 L1544.0,257.81 L1546.0,257.83 L1548.0,257.86 L1550.0,257.88 L1552.0,257.91 L1554.0,257.93 L1556.0,257.96 L1558.0,257.98 L1560.0,258.00 L1562.0,258.03 L1564.0,258.05 L1566.0,258.08 L1568.0,258.10 L1570.0,258.12 L1572.0,258.15 L1574.0,258.17 L1576.0,258.19 L1578.0,258.22 L1580.0,258.24 L1582.0,258.26 L1584.0,258.29 L1586.0,258.31 L1588.0,258.33 L1590.0,258.35 L1592.0,258.38 L1594.0,258.40 L1596.0,258.42 L1598.0,258.44 L1600.0,258.46 L1602.0,258.49 L1604.0,258.51 L1606.0,258.53 L1608.0,258.55 L1610.0,258.57 L1612.0,258.59 L1614.0,258.61 L1616.0,258.63 L1618.0,258.65 L1620.0,258.68 L1622.0,258.70 L1624.0,258.72 L1626.0,258.74 L1628.0,258.76 L1630.0,258.77 L1632.0,258.79 L1634.0,258.81 L1636.0,258.83 L1638.0,258.85 L1640.0,258.87 L1642.0,258.89 L1644.0,258.91 L1646.0,258.92 L1648.0,258.94 L1650.0,258.96 L1652.0,258.98 L1654.0,258.99 L1656.0,259.01 L1658.0,259.03 L1660.0,259.05 L1662.0,259.06 L1664.0,259.08 L1666.0,259.09 L1668.0,259.11 L1670.0,259.13 L1672.0,259.14 L1674.0,259.16 L1676.0,259.17 L1678.0,259.18 L1680.0,259.20 L1682.0,259.21 L1684.0,259.23 L1686.0,259.24 L1688.0,259.25 L1690.0,259.27"/>
</g>
<g font-size="45.6" font-weight="bold" fill="#000">
<text transform="translate(231,1017.7) scale(1,1.051)" text-anchor="end">0</text>
<text transform="translate(231,844.7) scale(1,1.051)" text-anchor="end">20</text>
<text transform="translate(231,671.7) scale(1,1.051)" text-anchor="end">40</text>
<text transform="translate(231,498.7) scale(1,1.051)" text-anchor="end">60</text>
<text transform="translate(231,324.7) scale(1,1.051)" text-anchor="end">80</text>
<text transform="translate(231,151.7) scale(1,1.051)" text-anchor="end">100</text>
<text transform="translate(265.8,1163) scale(1,1.051)" text-anchor="middle">400</text>
<text transform="translate(737.8,1163) scale(1,1.051)" text-anchor="middle">500</text>
<text transform="translate(1208.8,1163) scale(1,1.051)" text-anchor="middle">600</text>
<text transform="translate(1679.8,1163) scale(1,1.051)" text-anchor="middle">700</text>
</g>
<text transform="translate(0,1275)" y="0" font-size="78.7" font-weight="bold"><tspan x="654.3" font-size="82.85">W</tspan><tspan x="728.6 773.6 818.1 862.6 882.8 926.8 974.6 1023.3 1048.6 1096.7 1117.3 1145.7 1194.3 1265.3">avelength (nm)</tspan></text>
<text transform="translate(106,1050) rotate(-90)" y="0" font-size="78.7" font-weight="bold"><tspan x="-1.1" font-size="82.85">T</tspan><tspan x="47.7 95.9 120.8 166.7 188.5">otal </tspan><tspan x="209.7" font-size="82.85">R</tspan><tspan x="265.9 311.3 336.8 358.0 401.7 445.5 470.7 515.0 563.9 607.0 650.7 671.8 697.4">eflectance (%</tspan><tspan x="768.7" font-size="82.85">R</tspan><tspan x="827.4">)</tspan></text>
</g>
<rect x="305" y="839" width="522" height="214" fill="#fff"/>
<g fill="#000"><rect x="305" y="839" width="522" height="2"/><rect x="305" y="1050" width="522" height="3"/><rect x="305" y="839" width="2" height="214"/><rect x="825" y="839" width="2" height="214"/></g>
<g filter="url(#crisp)">
<g stroke-width="14" stroke-linecap="round"><line x1="327.8" y1="882.9" x2="453.1" y2="882.9" stroke="#000"/><line x1="327.8" y1="950.9" x2="453.1" y2="950.9" stroke="#f00"/><line x1="327.8" y1="1019.8" x2="453.1" y2="1019.8" stroke="#00f"/></g>
<g font-size="56" fill="#000"><text y="902"><tspan x="467.6" font-size="58.1">Z</tspan><tspan x="502.8">n</tspan><tspan x="533.6" font-size="58.1">O</tspan><tspan x="577.6">/</tspan><tspan x="592.1" font-size="58.1">A</tspan><tspan x="629.6">g</tspan></text><text y="971"><tspan x="467.6" font-size="58.1">Z</tspan><tspan x="502.8">n</tspan><tspan x="533.6" font-size="58.1">O</tspan><tspan x="577.6">/</tspan><tspan x="592.1" font-size="58.1">A</tspan><tspan x="629.6 661.5">g/</tspan><tspan x="675.6" font-size="58.1">S</tspan><tspan x="713.9">n</tspan><tspan x="744.3" font-size="58.1">O</tspan><tspan x="789.0">x</tspan></text><text y="1040"><tspan x="467.6" font-size="58.1">Z</tspan><tspan x="502.8">n</tspan><tspan x="533.6" font-size="58.1">O</tspan><tspan x="577.6">/</tspan><tspan x="592.1" font-size="58.1">A</tspan><tspan x="629.6 661.5">g/</tspan><tspan x="675.6" font-size="58.1">S</tspan><tspan x="714.3">i</tspan><tspan x="725.4" font-size="58.1">O</tspan><tspan x="769.5">2</tspan></text></g>
</g>
</svg></body></html>
